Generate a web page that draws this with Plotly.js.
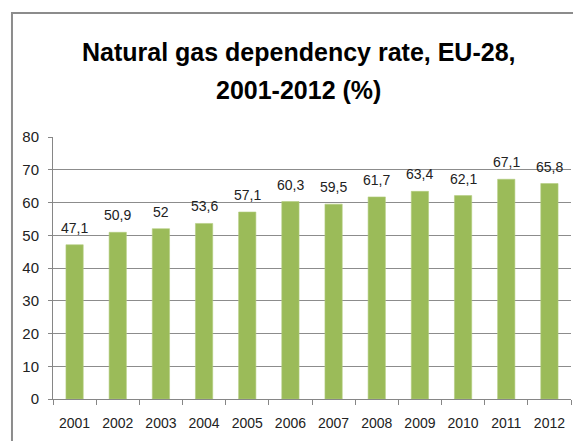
<!DOCTYPE html>
<html>
<head>
<meta charset="utf-8">
<script src="https://cdn.plot.ly/plotly-3.0.1.min.js"></script>
<style>
html,body{margin:0;padding:0;background:#fff;}
#chart{width:573px;height:441px;}
</style>
</head>
<body>
<div id="chart"></div>
<script>
var years = ["2001","2002","2003","2004","2005","2006","2007","2008","2009","2010","2011","2012"];
var dependencyRate = [47.1, 50.9, 52, 53.6, 57.1, 60.3, 59.5, 61.7, 63.4, 62.1, 67.1, 65.8];
var yTickValues = [0,10,20,30,40,50,60,70,80];
var titleLines = ["Natural gas dependency rate, EU-28,", "2001-2012 (%)"];

var labels = dependencyRate.map(function(v){ return String(v).replace('.', ','); });

var trace = {
  type: 'bar',
  x: years,
  y: dependencyRate,
  marker: {color: '#9BBB59', line: {color: '#B3CD80', width: 0.6}},
  hoverinfo: 'none'
};

var labelFont = {family: 'Liberation Sans, Arial, sans-serif', size: 14, color: '#222'};
var annotations = years.map(function(yr, i){
  return {
    x: i, y: dependencyRate[i], xref: 'x', yref: 'y',
    text: labels[i], showarrow: false,
    xanchor: 'center', yanchor: 'bottom', yshift: 7,
    font: labelFont
  };
});

var titleFont = {family: 'Liberation Sans, Arial, sans-serif', size: 25, color: '#000'};
annotations.push({
  x: 0.4749, y: 1.2634, xref: 'paper', yref: 'paper',
  text: '<b>' + titleLines[0] + '</b>', showarrow: false,
  xanchor: 'center', yanchor: 'bottom', font: titleFont
});
annotations.push({
  x: 0.4749, y: 1.1183, xref: 'paper', yref: 'paper',
  text: '<b>' + titleLines[1] + '</b>', showarrow: false,
  xanchor: 'center', yanchor: 'bottom', font: titleFont
});

var layout = {
  width: 573,
  height: 441,
  margin: {l: 53, r: 2, t: 137, b: 42, pad: 0},
  paper_bgcolor: '#ffffff',
  plot_bgcolor: '#ffffff',
  showlegend: false,
  bargap: 0.6,
  xaxis: {
    type: 'category',
    range: [-0.5, years.length - 0.5],
    showline: true, linecolor: '#868686', linewidth: 1,
    ticks: 'outside', tickson: 'boundaries', ticklen: 5, tickcolor: '#868686',
    ticklabelstandoff: 11,
    tickangle: 0,
    tickfont: {family: 'Liberation Sans, Arial, sans-serif', size: 14, color: '#222'},
    showgrid: false
  },
  yaxis: {
    range: [0, 80],
    tickvals: yTickValues,
    showline: true, linecolor: '#868686', linewidth: 1,
    ticks: 'outside', ticklen: 4, tickcolor: '#868686',
    ticklabelstandoff: 6,
    showgrid: true, gridcolor: '#8c8c8c', gridwidth: 1,
    zeroline: false,
    tickfont: {family: 'Liberation Sans, Arial, sans-serif', size: 15, color: '#222'}
  },
  annotations: annotations,
  shapes: [{
    type: 'rect', xref: 'paper', yref: 'paper',
    x0: -0.0792, x1: 1.05, y0: -0.3, y1: 1.4733,
    line: {color: '#8c8c8c', width: 2}, fillcolor: 'rgba(0,0,0,0)', layer: 'below'
  }]
};

Plotly.newPlot('chart', [trace], layout, {displayModeBar: false, staticPlot: true});
</script>
</body>
</html>
